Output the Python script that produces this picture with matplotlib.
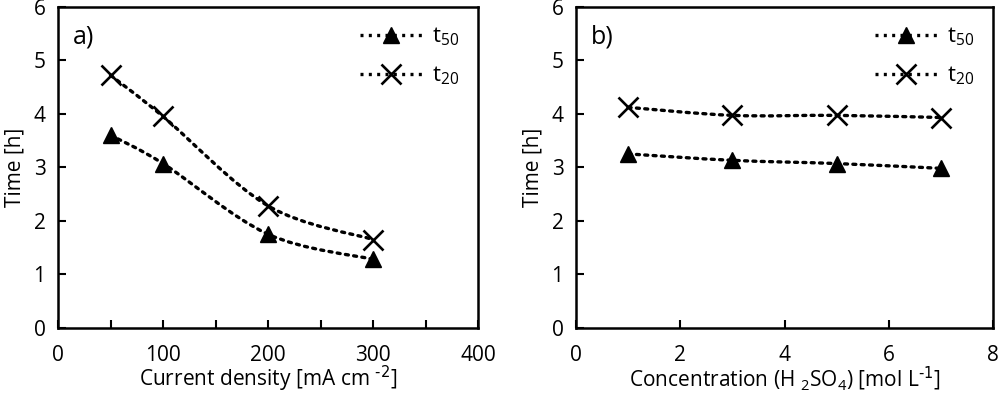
import numpy as np
import matplotlib
matplotlib.use("Agg")
import matplotlib.pyplot as plt
from matplotlib.path import Path
from matplotlib.patches import PathPatch
from matplotlib.lines import Line2D

plt.rcParams["font.family"] = ["Open Sans", "DejaVu Sans"]

# panel a: current density
current = [50, 100, 200, 300]
t50_a = [3.60, 3.07, 1.75, 1.28]
t20_a = [4.72, 3.95, 2.28, 1.65]

# panel b: H2SO4 concentration
conc = [1, 3, 5, 7]
t50_b = [3.25, 3.13, 3.07, 2.98]
t20_b = [4.12, 3.97, 3.97, 3.93]

DOTS = (0, (0.9, 1.6))


def smooth_path(ax, xs, ys):
    """Excel-like smoothed line drawn as bezier segments through the points."""
    x = np.asarray(xs, float)
    y = np.asarray(ys, float)
    verts = [(x[0], y[0])]
    codes = [Path.MOVETO]
    n = len(x)
    for i in range(n - 1):
        x0, y0 = (x[i - 1], y[i - 1]) if i > 0 else (x[i], y[i])
        x3, y3 = (x[i + 2], y[i + 2]) if i + 2 < n else (x[i + 1], y[i + 1])
        c1 = (x[i] + (x[i + 1] - x0) / 6, y[i] + (y[i + 1] - y0) / 6)
        c2 = (x[i + 1] - (x3 - x[i]) / 6, y[i + 1] - (y3 - y[i]) / 6)
        verts += [c1, c2, (x[i + 1], y[i + 1])]
        codes += [Path.CURVE4] * 3
    patch = PathPatch(Path(verts, codes), fill=False, lw=2.4, ls=DOTS,
                      color="black", capstyle="round", zorder=2)
    ax.add_patch(patch)


def setup(ax, xlim, xmajor, xminor, xlabel, tag):
    ax.set_xlim(*xlim)
    ax.set_ylim(0, 6)
    ax.set_xticks(xmajor)
    ax.set_xticks(xminor, minor=True)
    ax.set_yticks(range(7))
    ax.tick_params(direction="in", length=6, width=1.5, labelsize=15)
    ax.tick_params(axis="x", pad=12)
    ax.tick_params(axis="y", pad=9)
    ax.tick_params(which="minor", direction="in", length=6, width=1.5)
    for s in ax.spines.values():
        s.set_linewidth(1.8)
    ax.set_xlabel(xlabel, fontsize=15, labelpad=-1)
    ax.set_ylabel("Time [h]", fontsize=15, labelpad=6)
    ax.text(0.035, 0.905, tag, transform=ax.transAxes, fontsize=18, va="center")


fig, axes = plt.subplots(1, 2, figsize=(10, 3.95), dpi=100)

panels = [
    (axes[0], current, t50_a, t20_a, (0, 400), range(0, 401, 100), range(50, 400, 100),
     r"Current density [mA cm $^{\text{-2}}$]", "a)"),
    (axes[1], conc, t50_b, t20_b, (0, 8), range(0, 9, 2), [],
     r"Concentration (H $_{\mathregular{2}}$SO$_{\mathregular{4}}$) [mol L$^{\text{-1}}$]", "b)"),
]

for ax, xs, t50, t20, xlim, xmaj, xmin, xlabel, tag in panels:
    setup(ax, xlim, xmaj, xmin, xlabel, tag)
    smooth_path(ax, xs, t50)
    smooth_path(ax, xs, t20)
    ax.plot(xs, t50, ls="none", marker="^", ms=12, color="black", zorder=3)
    ax.plot(xs, t20, ls="none", marker="x", ms=15, mew=1.9, color="black", zorder=3)
    handles = [
        Line2D([], [], ls=DOTS, lw=2.4, color="black", marker="^", ms=12),
        Line2D([], [], ls=DOTS, lw=2.4, color="black", marker="x", ms=15, mew=1.9),
    ]
    ax.legend(handles, [r"$\mathregular{t_{50}}$", r"$\mathregular{t_{20}}$"],
              loc="upper right", frameon=False, fontsize=16, handlelength=2.8,
              labelspacing=0.75, borderaxespad=0.45, handletextpad=0.45)

axes[0].set_position([0.058, 0.17, 0.42, 0.813])
axes[1].set_position([0.576, 0.17, 0.417, 0.813])
plt.savefig("out.png", dpi=100)
plt.close()
